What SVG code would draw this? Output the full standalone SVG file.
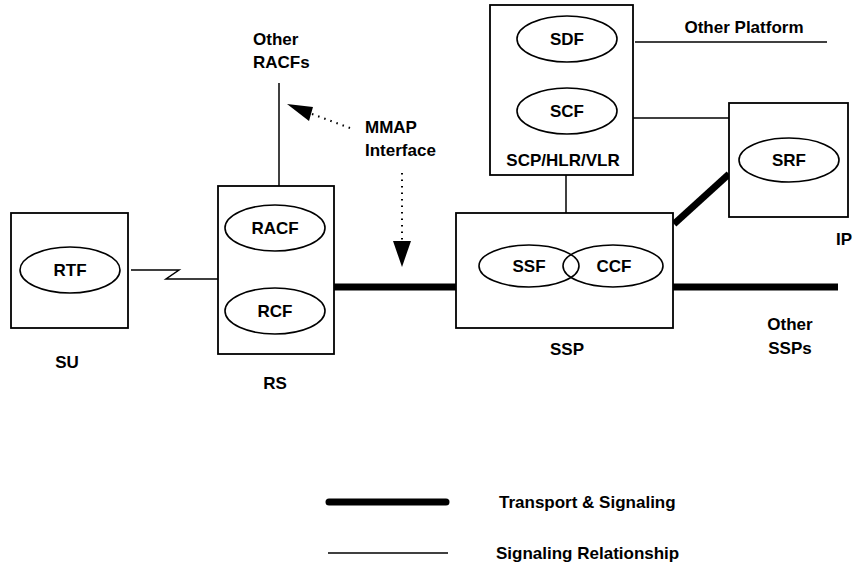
<svg xmlns="http://www.w3.org/2000/svg" width="854" height="564" viewBox="0 0 854 564">
<style>
text{font-family:"Liberation Sans",Arial,sans-serif;font-weight:bold;font-size:17px;fill:#000}
.c{text-anchor:middle}
.box{fill:#fff;stroke:#000;stroke-width:1.8}
.ell{fill:none;stroke:#000;stroke-width:1.6}
.thin{stroke:#000;stroke-width:1.5;fill:none}
.thick{stroke:#000;stroke-width:7;fill:none}
.dot{stroke:#000;stroke-width:2;stroke-dasharray:1.5 5;fill:none}
</style>
<rect width="854" height="564" fill="#fff"/>
<g id="connectors">
<line class="thin" x1="279" y1="83" x2="279" y2="186"/>
<polyline class="thin" points="131,270 179,270 166,279 218,279"/>
<line class="thick" x1="334" y1="287" x2="457" y2="287"/>
<line class="thick" x1="673" y1="287" x2="838" y2="287"/>
<line class="thick" x1="674" y1="224" x2="729" y2="174"/>
<line class="thin" x1="566" y1="175" x2="566" y2="213"/>
<line class="thin" x1="635" y1="42" x2="827" y2="42"/>
<line class="thin" x1="633" y1="118" x2="729" y2="118"/>
<line class="dot" x1="350" y1="128" x2="312" y2="114"/>
<polygon points="287,104 313,107 309,121" fill="#000"/>
<line class="dot" x1="402" y1="173" x2="402" y2="241"/>
<polygon points="402,267 393,241 411,241" fill="#000"/>
</g>
<g id="SU">
<rect class="box" x="11" y="213" width="117" height="115"/>
<ellipse class="ell" cx="70" cy="270" rx="50" ry="23"/>
<text class="c" x="70" y="276">RTF</text>
<text class="c" x="67" y="368">SU</text>
</g>
<g id="RS">
<rect class="box" x="218" y="186" width="116" height="168"/>
<ellipse class="ell" cx="275" cy="228" rx="50" ry="23"/>
<text class="c" x="275" y="234">RACF</text>
<ellipse class="ell" cx="275" cy="311" rx="50" ry="23"/>
<text class="c" x="275" y="317">RCF</text>
<text class="c" x="275" y="389">RS</text>
</g>
<g id="SCP">
<rect class="box" x="490" y="5" width="143" height="170"/>
<ellipse class="ell" cx="567" cy="39" rx="50" ry="23"/>
<text class="c" x="567" y="45">SDF</text>
<ellipse class="ell" cx="567" cy="111" rx="50" ry="23"/>
<text class="c" x="567" y="117">SCF</text>
<text class="c" x="563" y="166">SCP/HLR/VLR</text>
</g>
<g id="SSP">
<rect class="box" x="456" y="213" width="217" height="115"/>
<ellipse class="ell" cx="529" cy="266" rx="50" ry="21"/>
<ellipse class="ell" cx="613" cy="266" rx="50" ry="21"/>
<text class="c" x="529" y="272">SSF</text>
<text class="c" x="614" y="272">CCF</text>
<text class="c" x="567" y="355">SSP</text>
</g>
<g id="IP">
<rect class="box" x="729" y="103" width="119" height="114"/>
<ellipse class="ell" cx="789" cy="160" rx="50" ry="22"/>
<text class="c" x="789" y="166">SRF</text>
<text x="852" y="245" text-anchor="end">IP</text>
</g>
<g id="labels">
<text x="253" y="45">Other</text>
<text x="253" y="68">RACFs</text>
<text x="365" y="133">MMAP</text>
<text x="365" y="156">Interface</text>
<text class="c" x="744" y="33">Other Platform</text>
<text class="c" x="790" y="330">Other</text>
<text class="c" x="790" y="354">SSPs</text>
</g>
<g id="legend">
<line x1="329" y1="502" x2="446" y2="502" stroke="#000" stroke-width="7" stroke-linecap="round"/>
<text x="499" y="508">Transport &amp; Signaling</text>
<line class="thin" x1="328" y1="553" x2="448" y2="553"/>
<text x="496" y="559">Signaling Relationship</text>
</g>
</svg>
